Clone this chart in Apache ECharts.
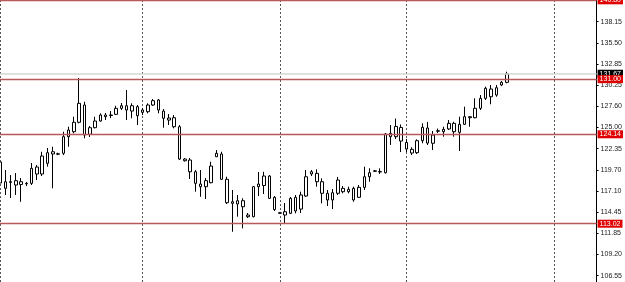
<!DOCTYPE html>
<html>
<head>
<meta charset="utf-8">
<script src="https://cdn.jsdelivr.net/npm/echarts@6.0.0/dist/echarts.min.js"></script>
<style>
  html, body { margin: 0; padding: 0; background: #fff; }
  #main { width: 625px; height: 282px; }
</style>
</head>
<body>
<div id="main"></div>
<script>
/*------------ data ------------*/
// bar prices, oldest first
var openP  = [120.69,117.42,118.25,117.83,118.24,117.98,118.04,120.07,119.20,120.53,
              121.97,121.72,121.77,123.84,124.46,125.63,127.78,124.14,124.96,125.79,
              126.54,126.48,126.62,127.37,127.69,127.03,127.57,126.87,126.95,127.78,
              128.40,127.03,126.16,126.20,125.08,121.06,120.94,119.48,117.95,117.62,
              118.12,121.35,121.69,118.54,115.55,115.88,115.88,113.89,113.89,117.62,
              117.77,118.95,116.30,114.38,114.10,114.31,114.60,114.84,116.46,119.20,
              119.28,118.24,115.97,116.87,116.80,117.42,117.00,117.42,116.30,117.54,
              118.86,119.54,119.50,119.36,123.84,123.84,124.98,123.12,122.27,121.85,
              123.34,124.92,123.02,124.52,124.46,124.80,125.50,124.38,125.38,126.20,
              126.20,127.37,128.61,129.77,129.02,130.27,130.60];
var closeP = [118.08,118.24,118.15,118.37,117.90,118.05,119.91,119.20,121.44,121.85,
              121.69,121.66,123.84,124.67,125.63,127.99,124.05,124.96,125.79,126.54,
              126.33,126.54,127.37,127.69,127.16,127.69,126.45,127.16,127.78,128.32,
              127.16,126.13,125.91,125.08,121.06,120.85,119.48,118.04,117.62,118.37,
              120.19,121.77,118.54,115.63,115.75,115.47,115.13,114.10,117.62,117.95,
              118.95,116.17,114.78,114.32,114.51,116.17,116.30,116.59,118.86,119.48,
              118.24,116.80,116.80,115.97,118.45,117.00,117.30,115.97,117.54,118.86,
              119.36,119.60,119.45,124.17,124.26,125.11,123.30,122.31,121.81,123.34,
              125.01,123.05,124.05,124.58,124.76,125.50,124.46,125.38,126.33,126.33,
              127.37,128.61,129.86,128.81,129.93,130.60,131.67];
var lowP   = [117.21,116.59,116.21,116.59,115.75,117.70,117.83,118.45,118.95,120.11,
              117.42,121.55,121.56,122.59,124.26,125.50,123.64,123.80,124.88,125.70,
              125.91,126.16,126.54,127.16,125.91,126.13,125.29,126.54,126.75,127.66,
              126.75,124.96,125.29,124.88,120.94,120.75,118.58,117.00,116.37,116.09,
              118.04,121.31,118.45,115.47,112.02,113.89,112.44,113.73,113.81,116.46,
              116.71,116.09,114.60,114.25,112.98,114.22,114.31,114.35,116.34,118.95,
              117.62,115.55,115.22,114.84,116.59,116.80,116.80,115.75,116.21,117.21,
              118.24,119.45,119.20,119.26,122.81,123.55,121.93,121.93,121.56,121.69,
              123.02,122.81,122.18,124.30,123.84,124.67,123.84,122.06,125.29,125.08,
              126.13,127.16,128.40,127.87,128.81,130.14,130.48];
var highP  = [121.19,119.70,119.07,119.32,118.70,118.20,120.57,120.32,121.97,122.43,
              122.59,121.85,124.46,125.08,126.33,131.14,128.19,125.17,126.33,126.75,
              126.79,127.03,127.69,128.03,129.65,127.99,127.78,127.41,127.99,128.53,
              128.53,127.28,126.66,126.54,125.29,121.19,121.19,119.70,119.70,118.70,
              120.73,122.18,121.97,118.86,117.21,116.59,116.18,114.35,117.71,119.45,
              119.48,119.07,116.46,114.45,115.59,116.34,116.59,117.00,119.70,119.70,
              119.78,118.66,117.21,117.33,118.83,117.71,117.62,117.62,117.83,120.11,
              119.91,119.70,119.90,124.30,125.29,126.10,125.36,123.55,122.52,123.51,
              125.50,125.67,124.55,124.85,125.08,125.91,125.70,126.33,127.57,126.36,
              128.61,129.02,130.06,130.27,130.27,130.77,131.92];

// price scale labels on the right
var yTicks = [138.15,135.50,132.85,130.25,127.60,125.00,122.35,119.70,117.10,114.45,111.85,109.20,106.55];
// horizontal levels (red) and the last price (grey line, black tag)
var levels = [140.80, 131.00, 124.14, 113.02];
var lastPrice = 131.67;
// bars where the dotted vertical separators sit
var sepBars = [0, 27, 53, 77, 105];
var barCount = 114; // includes empty space on the right

/*------------ build ------------*/
var bars = [];
for (var i = 0; i < barCount; i++) bars.push(String(i));

var candles = [];
for (var j = 0; j < openP.length; j++) {
	candles.push([openP[j], closeP[j], lowP[j], highP[j]]);
}

var lineData = [{
	yAxis: lastPrice,
	lineStyle: { color: '#d6d6d6', width: 1.5, type: 'solid' },
	label: { backgroundColor: '#000' }
}];
levels.forEach(function (v) {
	lineData.push({
		yAxis: v,
		lineStyle: { color: '#b85858', width: 1.4, type: 'solid' },
		label: { backgroundColor: '#e00000' }
	});
});

echarts.init(document.getElementById('main')).setOption({
	backgroundColor: '#fff',
	animation: false,
	grid: { left: 0, right: 28, top: 0, bottom: 0 },
	xAxis: {
		type: 'category',
		data: bars,
		boundaryGap: false,
		axisLine: { show: false },
		axisTick: { show: false },
		axisLabel: { show: false },
		splitLine: {
			show: true,
			interval: function (idx) { return sepBars.indexOf(idx) >= 0; },
			lineStyle: { color: '#555', type: [2, 2], width: 1 }
		}
	},
	yAxis: {
		type: 'value',
		position: 'right',
		min: 105.77,
		max: 140.84,
		axisLine: { show: true, lineStyle: { color: '#000', width: 1 } },
		axisTick: { show: true, length: 2, customValues: yTicks, lineStyle: { color: '#000' } },
		axisLabel: {
			customValues: yTicks,
			margin: 4,
			color: '#222',
			fontSize: 7,
			fontFamily: 'Liberation Sans, Arial, sans-serif',
			formatter: function (v) { return v.toFixed(2); }
		},
		splitLine: { show: false }
	},
	series: [{
		type: 'candlestick',
		data: candles,
		barWidth: 3,
		itemStyle: {
			color: '#fff',
			color0: '#fff',
			borderColor: '#000',
			borderColor0: '#000',
			borderWidth: 1
		},
		markLine: {
			silent: true,
			symbol: 'none',
			data: lineData,
			label: {
				position: 'end',
				distance: 1,
				color: '#fff',
				fontSize: 7,
				fontFamily: 'Liberation Sans, Arial, sans-serif',
				padding: [1, 2, 0, 2],
				formatter: function (p) { return Number(p.value).toFixed(2); }
			}
		}
	}]
});
</script>
</body>
</html>
